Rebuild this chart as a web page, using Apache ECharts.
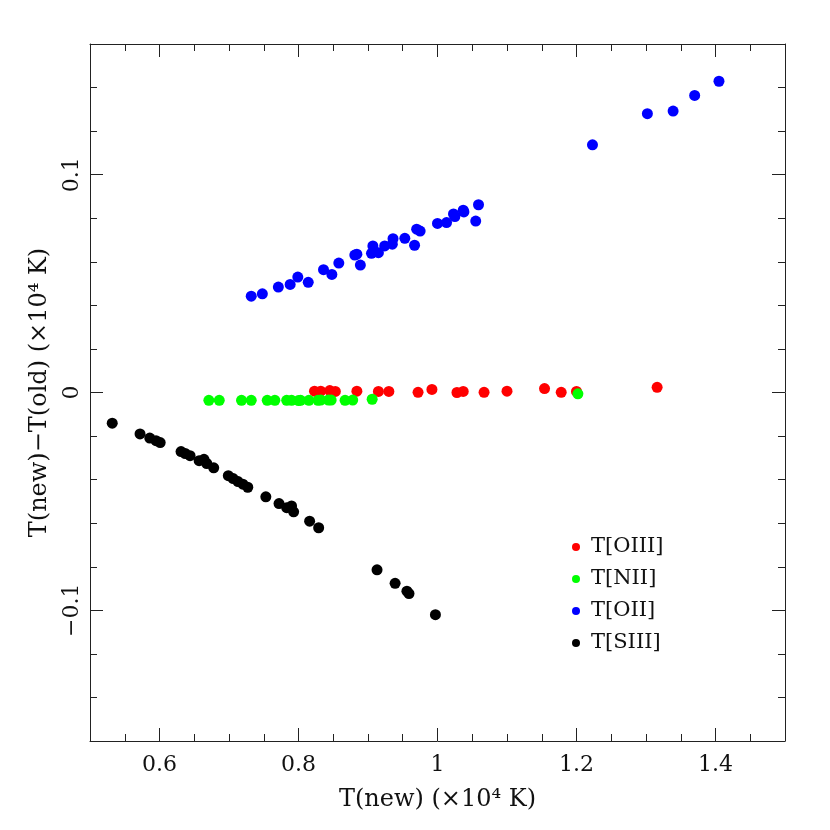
<!DOCTYPE html>
<html>
<head>
<meta charset="utf-8">
<script src="https://cdn.jsdelivr.net/npm/echarts@6/dist/echarts.min.js"></script>
<style>html,body{margin:0;padding:0;background:#fff}#c{width:830px;height:830px}</style>
</head>
<body>
<div id="c"></div>
<script>
// ---- Data (x = T(new), y = T(new) - T(old), both in 10^4 K) ----
const oiiiX = [0.823,0.832,0.845,0.853,0.884,0.915,0.930,0.972,0.992,1.028,1.037,1.067,1.100,1.154,1.178,1.200,1.316];
const oiiiY = [0.0006,0.0006,0.0009,0.0005,0.0006,0.0005,0.0005,0.0001,0.0014,0.0000,0.0005,0.0001,0.0006,0.0018,0.0001,0.0005,0.0024];

const niiX = [0.671,0.686,0.718,0.732,0.755,0.766,0.783,0.790,0.800,0.803,0.815,0.828,0.832,0.843,0.847,0.867,0.878,0.906,1.202];
const niiY = [-0.0036,-0.0036,-0.0036,-0.0036,-0.0036,-0.0036,-0.0036,-0.0036,-0.0037,-0.0036,-0.0036,-0.0036,-0.0035,-0.0035,-0.0035,-0.0036,-0.0035,-0.0031,-0.0006];

const oiiX = [0.732,0.748,0.771,0.788,0.799,0.814,0.836,0.848,0.858,0.881,0.884,0.889,0.905,0.907,0.915,0.924,0.935,0.936,0.953,0.967,0.970,0.975,1.000,1.013,1.023,1.025,1.037,1.038,1.059,1.055,1.223,1.302,1.339,1.370,1.405];
const oiiY = [0.0442,0.0453,0.0484,0.0496,0.0530,0.0506,0.0564,0.0542,0.0594,0.0631,0.0635,0.0585,0.0639,0.0673,0.0642,0.0673,0.0681,0.0706,0.0708,0.0676,0.0750,0.0741,0.0776,0.0780,0.0820,0.0808,0.0837,0.0829,0.0862,0.0787,0.1137,0.1280,0.1292,0.1364,0.1429];

const siiiX = [0.532,0.572,0.586,0.595,0.601,0.631,0.637,0.644,0.657,0.664,0.668,0.678,0.699,0.706,0.713,0.720,0.727,0.753,0.772,0.783,0.790,0.793,0.816,0.829,0.913,0.939,0.956,0.959,0.997];
const siiiY = [-0.0141,-0.0190,-0.0209,-0.0221,-0.0230,-0.0271,-0.0280,-0.0290,-0.0313,-0.0307,-0.0326,-0.0346,-0.0382,-0.0395,-0.0409,-0.0421,-0.0435,-0.0479,-0.0510,-0.0529,-0.0521,-0.0548,-0.0591,-0.0621,-0.0814,-0.0876,-0.0912,-0.0923,-0.1020];

const seriesNames = ['T[OIII]','T[NII]','T[OII]','T[SIII]'];
const seriesColors = ['#ff0000','#00ff00','#0000ff','#000000'];

const xMajor = [0.6,0.8,1,1.2,1.4];
const xMinor = [0.55,0.65,0.7,0.75,0.85,0.9,0.95,1.05,1.1,1.15,1.25,1.3,1.35,1.45];
const yMajor = [-0.1,0,0.1];
const yMinor = [-0.14,-0.12,-0.08,-0.06,-0.04,-0.02,0.02,0.04,0.06,0.08,0.12,0.14];

const xRange = [0.5,1.5];
const yRange = [-0.16,0.16];

const xTitle = 'T(new) (×10⁴ K)';
const yTitle = 'T(new)−T(old) (×10⁴ K)';

// ---- Chart ----
const FONT = '"DejaVu Serif", "Liberation Serif", serif';
const AXC = '#222';
const TXT = '#111';
const fmt = v => (v < 0 ? '−' + Math.abs(v) : String(v));

function xAx(pos, major, showLabel, showLine) {
  const o = {
    type: 'value', gridIndex: 0, position: pos, min: xRange[0], max: xRange[1],
    splitLine: {show: false},
    axisLine: {show: showLine, onZero: false, lineStyle: {color: AXC, width: 1}},
    axisTick: {show: true, inside: true, length: major ? 13 : 7, customValues: major ? xMajor : xMinor, lineStyle: {color: AXC, width: 1}},
    axisLabel: {show: showLabel, customValues: xMajor, formatter: fmt, fontFamily: FONT, fontSize: 22, color: TXT, margin: 13}
  };
  if (showLabel) {
    o.name = xTitle; o.nameLocation = 'middle'; o.nameGap = 47;
    o.nameTextStyle = {fontFamily: FONT, fontSize: 24, color: TXT};
  }
  return o;
}
function yAx(pos, major, showLabel, showLine) {
  const o = {
    type: 'value', gridIndex: 0, position: pos, min: yRange[0], max: yRange[1],
    splitLine: {show: false},
    axisLine: {show: showLine, onZero: false, lineStyle: {color: AXC, width: 1}},
    axisTick: {show: true, inside: true, length: major ? 13 : 7, customValues: major ? yMajor : yMinor, lineStyle: {color: AXC, width: 1}},
    axisLabel: {show: showLabel, customValues: yMajor, formatter: fmt, rotate: 90, fontFamily: FONT, fontSize: 22, color: TXT, margin: 7}
  };
  if (showLabel) {
    o.name = yTitle; o.nameLocation = 'middle'; o.nameGap = 38;
    o.nameTextStyle = {fontFamily: FONT, fontSize: 24, color: TXT};
  }
  return o;
}

function pairs(xs, ys) { return xs.map((x, i) => [x, ys[i]]); }
const allData = [pairs(oiiiX, oiiiY), pairs(niiX, niiY), pairs(oiiX, oiiY), pairs(siiiX, siiiY)];

const chart = echarts.init(document.getElementById('c'), null, {renderer: 'canvas'});
chart.setOption({
  animation: false,
  backgroundColor: '#fff',
  grid: {left: 90, right: 45, top: 44, bottom: 89, containLabel: false},
  xAxis: [xAx('bottom', true, true, true), xAx('bottom', false, false, false), xAx('top', true, false, true), xAx('top', false, false, false)],
  yAxis: [yAx('left', true, true, true), yAx('left', false, false, false), yAx('right', true, false, true), yAx('right', false, false, false)],
  legend: {
    show: true, orient: 'vertical', left: 567, top: 531, itemGap: 10,
    icon: 'circle', itemWidth: 20, itemHeight: 8,
    textStyle: {fontFamily: FONT, fontSize: 21, color: TXT, lineHeight: 22},
    data: seriesNames
  },
  series: seriesNames.map((n, i) => ({
    name: n, type: 'scatter', xAxisIndex: 0, yAxisIndex: 0,
    symbol: 'circle', symbolSize: 11,
    itemStyle: {color: seriesColors[i], opacity: 1},
    data: allData[i]
  }))
});
</script>
</body>
</html>
